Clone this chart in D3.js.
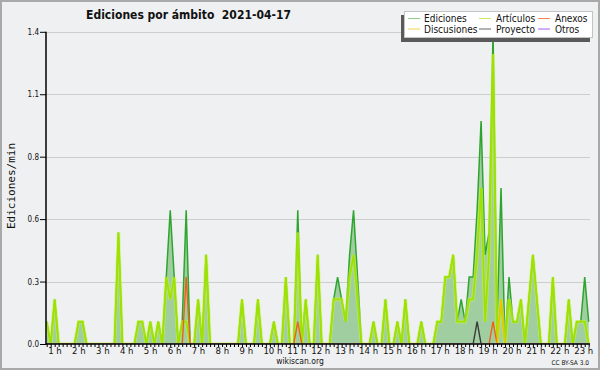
<!DOCTYPE html>
<html>
<head>
<meta charset="utf-8">
<script src="https://d3js.org/d3.v7.min.js"></script>
<style>
body { margin: 0; background: #eff0f2; }
svg { display: block; }
text { font-family: "DejaVu Sans Condensed", "DejaVu Sans", sans-serif; font-stretch: condensed; fill: #111; }
</style>
</head>
<body>
<svg id="chart" width="600" height="370"></svg>
<script>
// edits per minute, one value every 10 minutes (rows = one hour)
var ediciones = [
	0.1, 0, 0.2, 0, 0, 0,
	0, 0, 0.1, 0.1, 0, 0,
	0, 0, 0, 0, 0, 0,
	0.5, 0, 0, 0, 0, 0.1,
	0.1, 0, 0.1, 0, 0.1, 0,
	0.3, 0.6, 0.3, 0, 0.1, 0.6,
	0, 0, 0.2, 0, 0.4, 0,
	0, 0, 0, 0, 0, 0,
	0, 0.2, 0, 0, 0, 0.2,
	0, 0, 0, 0.1, 0, 0,
	0.3, 0, 0, 0.6, 0, 0.2,
	0, 0, 0.4, 0, 0, 0,
	0.2, 0.3, 0.2, 0.1, 0.4, 0.6,
	0.3, 0, 0, 0, 0.1, 0,
	0, 0.2, 0, 0, 0.1, 0,
	0.2, 0, 0, 0, 0.1, 0,
	0, 0, 0.1, 0.1, 0.3, 0.3,
	0.4, 0.1, 0.2, 0.1, 0.3, 0.3,
	0.6, 1.0, 0.4, 0.5, 1.4, 0.1,
	0.7, 0, 0.3, 0.1, 0.1, 0.2,
	0, 0.2, 0.4, 0.2, 0, 0,
	0, 0.3, 0, 0, 0, 0.2,
	0, 0.1, 0.1, 0.3, 0.1
];

var articulos = [
	0.1, 0, 0.2, 0, 0, 0,
	0, 0, 0.1, 0.1, 0, 0,
	0, 0, 0, 0, 0, 0,
	0.5, 0, 0, 0, 0, 0.1,
	0.1, 0, 0.1, 0, 0.1, 0,
	0.3, 0.2, 0.3, 0, 0.1, 0.1,
	0, 0, 0.2, 0, 0.4, 0,
	0, 0, 0, 0, 0, 0,
	0, 0.2, 0, 0, 0, 0.2,
	0, 0, 0, 0.1, 0, 0,
	0.3, 0, 0, 0.5, 0, 0.2,
	0, 0, 0.4, 0, 0, 0,
	0.2, 0.2, 0.2, 0.1, 0.3, 0.4,
	0.2, 0, 0, 0, 0.1, 0,
	0, 0.2, 0, 0, 0.1, 0,
	0.2, 0, 0, 0, 0.1, 0,
	0, 0, 0.1, 0.1, 0.3, 0.3,
	0.4, 0.1, 0.1, 0.1, 0.2, 0.2,
	0.4, 0.7, 0.1, 0.4, 1.3, 0,
	0.2, 0, 0.2, 0.1, 0.1, 0.2,
	0, 0.2, 0.4, 0.2, 0, 0,
	0, 0.3, 0, 0, 0, 0.2,
	0, 0.1, 0.1, 0.1, 0
];

var anexos = [
	0, 0, 0, 0, 0, 0,
	0, 0, 0, 0, 0, 0,
	0, 0, 0, 0, 0, 0,
	0, 0, 0, 0, 0, 0,
	0, 0, 0, 0, 0, 0,
	0, 0, 0, 0, 0, 0.3,
	0, 0, 0, 0, 0, 0,
	0, 0, 0, 0, 0, 0,
	0, 0, 0, 0, 0, 0,
	0, 0, 0, 0, 0, 0,
	0, 0, 0, 0.1, 0, 0,
	0, 0, 0, 0, 0, 0,
	0, 0, 0, 0, 0, 0,
	0, 0, 0, 0, 0, 0,
	0, 0, 0, 0, 0, 0,
	0, 0, 0, 0, 0, 0,
	0, 0, 0, 0, 0, 0,
	0, 0, 0, 0, 0, 0,
	0, 0, 0, 0, 0.1, 0,
	0, 0, 0, 0, 0, 0,
	0, 0, 0, 0, 0, 0,
	0, 0, 0, 0, 0, 0,
	0, 0, 0, 0, 0
];

var discusiones = [
	0, 0, 0, 0, 0, 0,
	0, 0, 0, 0, 0, 0,
	0, 0, 0, 0, 0, 0,
	0, 0, 0, 0, 0, 0,
	0, 0, 0, 0, 0, 0,
	0, 0, 0, 0, 0, 0,
	0, 0, 0, 0, 0, 0,
	0, 0, 0, 0, 0, 0,
	0, 0, 0, 0, 0, 0,
	0, 0, 0, 0, 0, 0,
	0, 0, 0, 0, 0, 0,
	0, 0, 0, 0, 0, 0,
	0, 0, 0, 0, 0, 0,
	0, 0, 0, 0, 0, 0,
	0, 0, 0, 0, 0, 0,
	0, 0, 0, 0, 0, 0,
	0, 0, 0, 0, 0, 0,
	0, 0, 0, 0, 0, 0,
	0, 0, 0, 0, 0, 0,
	0.2, 0, 0, 0, 0, 0,
	0, 0, 0, 0, 0, 0,
	0, 0, 0, 0, 0, 0,
	0, 0, 0, 0, 0
];

var proyecto = [
	0, 0, 0, 0, 0, 0,
	0, 0, 0, 0, 0, 0,
	0, 0, 0, 0, 0, 0,
	0, 0, 0, 0, 0, 0,
	0, 0, 0, 0, 0, 0,
	0, 0, 0, 0, 0, 0,
	0, 0, 0, 0, 0, 0,
	0, 0, 0, 0, 0, 0,
	0, 0, 0, 0, 0, 0,
	0, 0, 0, 0, 0, 0,
	0, 0, 0, 0, 0, 0,
	0, 0, 0, 0, 0, 0,
	0, 0, 0, 0, 0, 0,
	0, 0, 0, 0, 0, 0,
	0, 0, 0, 0, 0, 0,
	0, 0, 0, 0, 0, 0,
	0, 0, 0, 0, 0, 0,
	0, 0, 0, 0, 0, 0,
	0.1, 0, 0, 0, 0, 0,
	0, 0, 0, 0, 0, 0,
	0, 0, 0, 0, 0, 0,
	0, 0, 0, 0, 0, 0,
	0, 0, 0, 0, 0
];

var otros = [
	0, 0, 0, 0, 0, 0,
	0, 0, 0, 0, 0, 0,
	0, 0, 0, 0, 0, 0,
	0, 0, 0, 0, 0, 0,
	0, 0, 0, 0, 0, 0,
	0, 0, 0, 0, 0, 0,
	0, 0, 0, 0, 0, 0,
	0, 0, 0, 0, 0, 0,
	0, 0, 0, 0, 0, 0,
	0, 0, 0, 0, 0, 0,
	0, 0, 0, 0, 0, 0,
	0, 0, 0, 0, 0, 0,
	0, 0, 0, 0, 0, 0,
	0, 0, 0, 0, 0, 0,
	0, 0, 0, 0, 0, 0,
	0, 0, 0, 0, 0, 0,
	0, 0, 0, 0, 0, 0,
	0, 0, 0, 0, 0, 0,
	0, 0, 0, 0, 0, 0,
	0, 0, 0, 0, 0, 0,
	0, 0, 0, 0, 0, 0,
	0, 0, 0, 0, 0, 0,
	0, 0, 0, 0, 0
];

var horas = ["1 h", "2 h", "3 h", "4 h", "5 h", "6 h", "7 h", "8 h", "9 h", "10 h", "11 h", "12 h",
	"13 h", "14 h", "15 h", "16 h", "17 h", "18 h", "19 h", "20 h", "21 h", "22 h", "23 h"];
var yTicks = [0, 0.28, 0.56, 0.84, 1.12, 1.4];

var titulo = "Ediciones por ámbito\u00a0\u00a02021-04-17";
var ejeY = "Ediciones/min";

var leyenda = ["Ediciones", "Discusiones", "Artículos", "Proyecto", "Anexos", "Otros"];
var colores = {
	"Ediciones": "#8fd08f", "Discusiones": "#f5d24a", "Artículos": "#c8ec5a",
	"Proyecto": "#666666", "Anexos": "#f58a5a", "Otros": "#a45cf0"
};

var svg = d3.select("#chart");
var plotLeft = 46, plotRight = 590, plotTop = 31.8, plotBottom = 344;

svg.append("rect")
	.attr("x", 1).attr("y", 1).attr("width", 598).attr("height", 368)
	.attr("fill", "#eff0f2").attr("stroke", "#a9a9a9").attr("stroke-width", 2);

var x = d3.scaleLinear().domain([0, ediciones.length - 1]).range([46.7, 588.7]);
var y = d3.scaleLinear().domain([0, 1.4]).range([plotBottom, plotTop]);

// 1. grid
svg.append("g").selectAll("line")
	.data(yTicks.slice(1))
	.enter()
	.append("line")
	.attr("x1", plotLeft).attr("x2", plotRight)
	.attr("y1", function(d) { return Math.round(y(d)) + 0.5; })
	.attr("y2", function(d) { return Math.round(y(d)) + 0.5; })
	.attr("stroke", "#cdcdcd");

svg.append("clipPath").attr("id", "plot")
	.append("rect").attr("x", plotLeft).attr("y", 0).attr("width", plotRight - plotLeft).attr("height", plotBottom - 0.8);

var g = svg.append("g").attr("clip-path", "url(#plot)");

// 2. series
var area = d3.area()
	.x(function(d, i) { return x(i); })
	.y0(y(0))
	.y1(function(d) { return y(d); });

var line = d3.line()
	.x(function(d, i) { return x(i); })
	.y(function(d) { return y(d); });

g.append("path").datum(ediciones)
	.attr("d", area)
	.attr("fill", "#a1cea1");

g.append("path").datum(ediciones)
	.attr("d", line)
	.attr("fill", "none").attr("stroke", "#2ea52e").attr("stroke-width", 1.5);

g.append("path").datum(articulos)
	.attr("d", line)
	.attr("fill", "none").attr("stroke", "#c8f250").attr("stroke-width", 3.6).attr("stroke-opacity", 0.55);

g.append("path").datum(articulos)
	.attr("d", line)
	.attr("fill", "none").attr("stroke", "#9ee200").attr("stroke-width", 1.8);

[[anexos, "#f06018"], [discusiones, "#f2c200"], [proyecto, "#3a3a3a"], [otros, "#8a2be2"]].forEach(function(s) {
	g.append("path").datum(s[0])
		.attr("d", line)
		.attr("fill", "none").attr("stroke", s[1]).attr("stroke-width", 1.4);
});

// 3. axes
var yAxis = svg.append("g").attr("transform", "translate(" + plotLeft + ",0)");
yAxis.call(d3.axisLeft(y).tickValues(d3.range(0, 1.41, 0.07)).tickSize(3).tickFormat(""));
yAxis.call(d3.axisLeft(y).tickValues(yTicks).tickSize(6).tickFormat(d3.format(".1f")));
yAxis.selectAll("path.domain").remove();
yAxis.selectAll("line").attr("stroke", "#000");
yAxis.selectAll("text").attr("font-size", "8px").attr("dx", "2px").style("font-family", null);

var xAxis = svg.append("g").attr("transform", "translate(0," + plotBottom + ")");
xAxis.call(d3.axisBottom(x).tickValues(d3.range(0, ediciones.length)).tickSize(3).tickFormat(""));
xAxis.selectAll("path.domain").remove();
xAxis.selectAll("line").attr("stroke", "#000");

svg.append("line").attr("x1", plotLeft).attr("x2", plotLeft).attr("y1", plotTop).attr("y2", plotBottom + 0.5)
	.attr("stroke", "#000").attr("stroke-width", 1.5);
svg.append("line").attr("x1", plotLeft - 0.5).attr("x2", plotRight).attr("y1", plotBottom).attr("y2", plotBottom)
	.attr("stroke", "#000").attr("stroke-width", 1.5);

svg.append("g").selectAll("text")
	.data(horas)
	.enter()
	.append("text")
	.text(function(d) { return d; })
	.attr("x", function(d, i) { return x(i * 6) + 1.5; })
	.attr("y", 354)
	.attr("font-size", "9.5px");

// 4. texts
svg.append("text").text(titulo)
	.attr("x", 188.5).attr("y", 18.5)
	.attr("text-anchor", "middle")
	.attr("font-size", "12px").attr("font-weight", "bold");

svg.append("text").text(ejeY)
	.attr("transform", "translate(14.5,186) rotate(-90)")
	.attr("text-anchor", "middle")
	.style("font-family", "'DejaVu Sans Mono', monospace")
	.style("font-stretch", "normal")
	.attr("font-size", "11px");

svg.append("text").text("wikiscan.org")
	.attr("x", 300).attr("y", 363.5)
	.attr("text-anchor", "middle")
	.attr("font-size", "8.5px");

svg.append("text").text("CC BY-SA 3.0")
	.attr("x", 589).attr("y", 364.5)
	.attr("text-anchor", "end")
	.attr("font-size", "6.5px");

// 5. legend
var lg = svg.append("g");
lg.append("rect").attr("x", 401).attr("y", 15).attr("width", 189).attr("height", 27).attr("fill", "#5a5a5a");
lg.append("rect").attr("x", 404.5).attr("y", 11.5).attr("width", 188).attr("height", 26)
	.attr("fill", "#ffffff").attr("stroke", "#c4c4c4");

var colX = [[408, 420, 424], [479, 491, 496], [538, 550, 555]];
var rowY = [[18.5, 22.3], [29, 32.5]];

leyenda.forEach(function(name, k) {
	var c = colX[Math.floor(k / 2)], r = rowY[k % 2];
	lg.append("line")
		.attr("x1", c[0]).attr("x2", c[1]).attr("y1", r[0]).attr("y2", r[0])
		.attr("stroke", colores[name]).attr("stroke-width", 1);
	lg.append("text").text(name)
		.attr("x", c[2]).attr("y", r[1])
		.attr("font-size", "10px");
});
</script>
</body>
</html>
